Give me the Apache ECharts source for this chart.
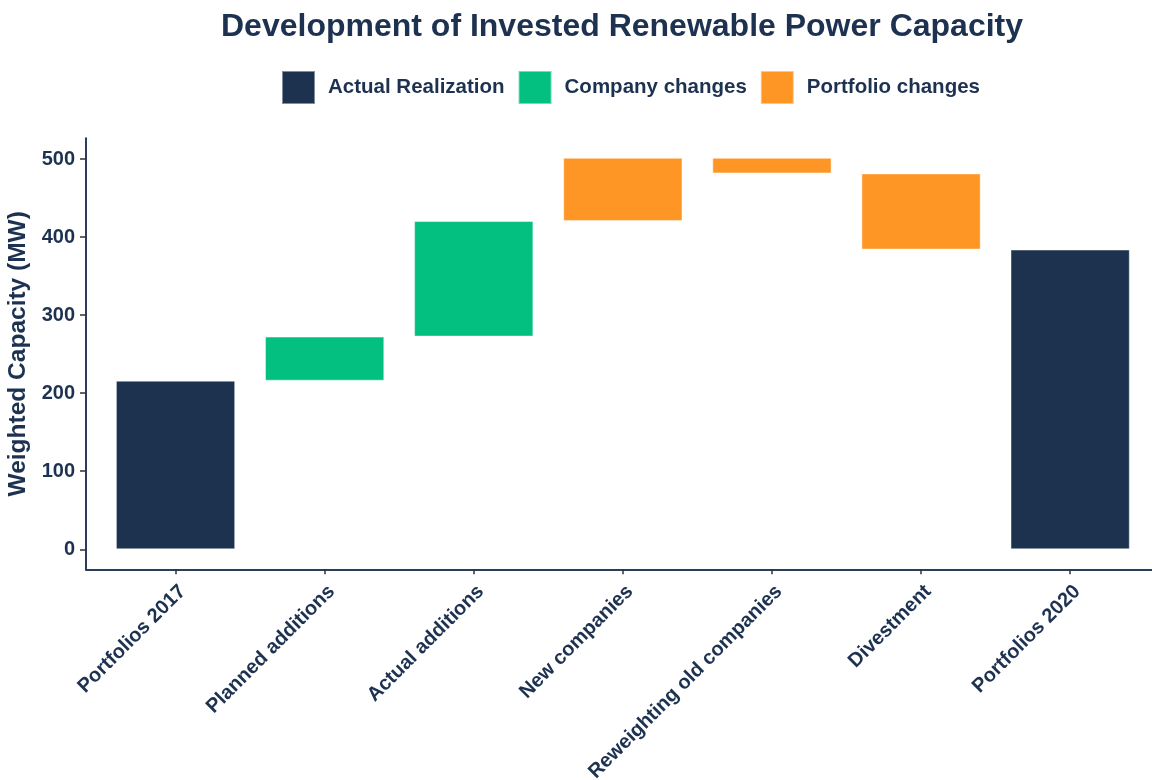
<!DOCTYPE html>
<html>
<head>
<meta charset="utf-8">
<title>Development of Invested Renewable Power Capacity</title>
<script src="https://cdn.jsdelivr.net/npm/echarts@6/dist/echarts.min.js"></script>
<style>
  html, body { margin: 0; padding: 0; background: #ffffff; }
  #chart { width: 1152px; height: 780px; }
</style>
</head>
<body>
<div id="chart"></div>
<script>
// Waterfall steps, in order along the x axis
const categories = [
  'Portfolios 2017', 'Planned additions', 'Actual additions',
  'New companies', 'Reweighting old companies', 'Divestment', 'Portfolios 2020'
];
// Step type per category: 0 = Actual Realization, 1 = Company changes, 2 = Portfolio changes
const stepGroup = [0, 1, 1, 2, 2, 2, 0];
// Signed change per step (MW); totals are the first and last entries
const stepValues = [216, 56.5, 148, 81, -20, -97.5, 384];
const groupNames = ['Actual Realization', 'Company changes', 'Portfolio changes'];
const groupColors = ['#1d324e', '#03bf80', '#fe9626'];
const yTicks = [0, 100, 200, 300, 400, 500];

const ink = '#1d3250';
const fontFamily = '"Liberation Sans", Arial, Helvetica, sans-serif';

// Build invisible base + visible segment for each step
const base = [];
const heights = [[], [], []];
let level = 0;
stepValues.forEach((v, i) => {
  const g = stepGroup[i];
  let lo, h;
  if (i === 0 || i === stepValues.length - 1) {
    lo = 0; h = v; level = v;
  } else {
    const next = level + v;
    lo = Math.min(level, next); h = Math.abs(v); level = next;
  }
  base.push(lo);
  for (let k = 0; k < 3; k++) heights[k].push(k === g ? h : '-');
});

const yMin = -25.6, yMax = 526.5;
const gridTop = 138.3, gridHeight = 431;

const chart = echarts.init(document.getElementById('chart'));
chart.setOption({
  animation: false,
  backgroundColor: '#ffffff',
  title: {
    text: 'Development of Invested Renewable Power Capacity',
    left: 221, top: 11, padding: 0,
    textStyle: { fontFamily, fontSize: 32, fontWeight: 'bold', color: ink }
  },
  legend: {
    data: groupNames,
    left: 281, top: 70, padding: 0,
    itemWidth: 33, itemHeight: 33, itemGap: 13,
    icon: 'rect',
    textStyle: { fontFamily, fontSize: 20.5, fontWeight: 'bold', color: ink, padding: [0, 0, 0, 8] }
  },
  grid: [
    // frame grid: carries the axis lines and y scale
    { left: 86, right: -8, top: gridTop, height: gridHeight, outerBoundsMode: 'none', containLabel: false },
    // bar grid: category bands
    { left: 101, width: 1043.7, top: gridTop, height: gridHeight, outerBoundsMode: 'none', containLabel: false }
  ],
  xAxis: [
    {
      gridIndex: 0, type: 'value', min: 0, max: 1,
      axisLine: { show: true, onZero: false, lineStyle: { color: '#2b3d58', width: 2 } },
      axisTick: { show: false }, axisLabel: { show: false }, splitLine: { show: false }
    },
    {
      gridIndex: 1, type: 'category', data: categories,
      axisLine: { show: false, onZero: false },
      axisTick: { show: true, alignWithLabel: true, length: 5, lineStyle: { color: '#333333', width: 1.5 } },
      axisLabel: {
        rotate: 45, interval: 0, margin: 12, verticalAlign: 'top',
        fontFamily, fontSize: 20, fontWeight: 'bold', color: ink
      },
      splitLine: { show: false }
    }
  ],
  yAxis: [
    {
      gridIndex: 0, type: 'value', min: yMin, max: yMax,
      name: 'Weighted Capacity (MW)', nameLocation: 'middle', nameGap: 44,
      nameTextStyle: { fontFamily, fontSize: 24.5, fontWeight: 'bold', color: ink },
      axisLine: { show: true, onZero: false, lineStyle: { color: '#2b3d58', width: 2 } },
      axisTick: { show: true, length: 6, customValues: yTicks, lineStyle: { color: '#333333', width: 1.5 } },
      axisLabel: {
        customValues: yTicks, margin: 11,
        fontFamily, fontSize: 20, fontWeight: 'bold', color: ink
      },
      splitLine: { show: false }
    },
    {
      gridIndex: 1, type: 'value', min: yMin, max: yMax, show: false,
      splitLine: { show: false }
    }
  ],
  series: [
    {
      name: 'base', type: 'bar', stack: 'wf', xAxisIndex: 1, yAxisIndex: 1,
      barWidth: '80%', data: base,
      itemStyle: { color: 'transparent' }, silent: true
    }
  ].concat(groupNames.map((name, k) => ({
    name, type: 'bar', stack: 'wf', xAxisIndex: 1, yAxisIndex: 1,
    barWidth: '80%', data: heights[k],
    itemStyle: { color: groupColors[k], borderColor: 'rgba(255,255,255,0.45)', borderWidth: 1 }
  })))
});
</script>
</body>
</html>
